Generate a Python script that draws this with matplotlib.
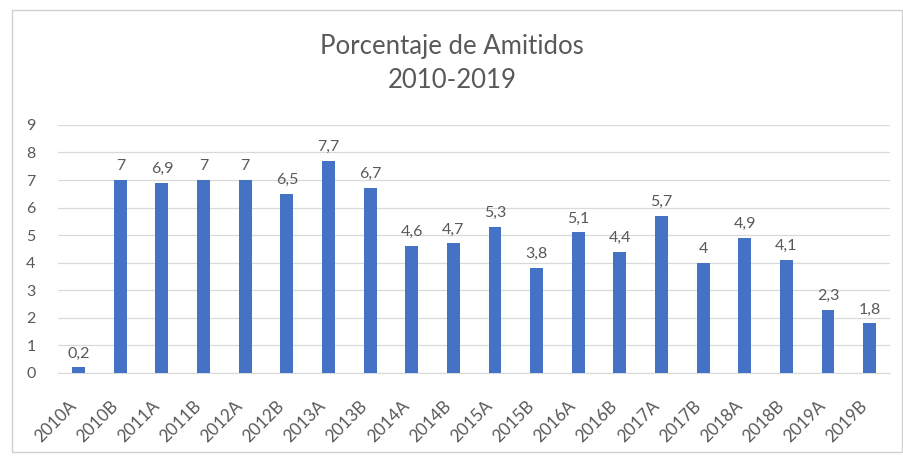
import matplotlib
matplotlib.use("Agg")
import matplotlib.pyplot as plt
from matplotlib.patches import Rectangle
from matplotlib.transforms import ScaledTranslation

categories = ["2010A", "2010B", "2011A", "2011B", "2012A", "2012B", "2013A", "2013B",
              "2014A", "2014B", "2015A", "2015B", "2016A", "2016B", "2017A", "2017B",
              "2018A", "2018B", "2019A", "2019B"]
values = [0.2, 7, 6.9, 7, 7, 6.5, 7.7, 6.7, 4.6, 4.7, 5.3, 3.8, 5.1, 4.4, 5.7, 4, 4.9, 4.1, 2.3, 1.8]
yticks = list(range(0, 10))
title = "Porcentaje de Amitidos\n2010-2019"

plt.rcParams['font.family'] = ['Lato', 'DejaVu Sans']
text_color = "#595959"
bar_color = "#4472C4"

fig = plt.figure(figsize=(9.04, 4.61), dpi=100)
ax = fig.add_axes([0.064, 0.191, 0.921, 0.538])

x = list(range(len(categories)))
ax.bar(x, values, width=0.31, color=bar_color, zorder=3)

for xi, v in zip(x, values):
    label = f"{v:g}".replace(".", ",")
    ax.annotate(label, (xi, v), xytext=(0, 5), textcoords="offset points",
                ha="center", va="bottom", fontsize=11.5, color=text_color)

ax.set_xlim(-0.5, len(categories) - 0.5)
ax.set_ylim(0, 9)
ax.set_yticks(yticks)
ax.set_yticklabels([str(t) for t in yticks], fontsize=11.5, color=text_color)
ax.set_xticks(x)
ax.set_xticklabels(categories, rotation=45, ha="right", va="center", rotation_mode="anchor",
                   fontsize=12.3, color=text_color)
ax.tick_params(axis="both", length=0)
ax.tick_params(axis="y", pad=16)
ax.tick_params(axis="x", pad=22)
shift = ScaledTranslation(-5 / 100, 0, fig.dpi_scale_trans)
for lbl in ax.get_xticklabels():
    lbl.set_transform(lbl.get_transform() + shift)
ax.grid(axis="y", color="#D9D9D9", linewidth=0.9, zorder=0)
for s in ["top", "right", "left"]:
    ax.spines[s].set_visible(False)
ax.spines["bottom"].set_color("#D9D9D9")

fig.text(0.5, 0.862, title, ha="center", va="center", fontsize=18.5,
         color=text_color, linespacing=1.45)

fig.patches.append(Rectangle((0.013, 0.02), 0.985, 0.958, transform=fig.transFigure,
                             fill=False, edgecolor="#D0D0D0", linewidth=1))

fig.savefig("out.png", dpi=100)
